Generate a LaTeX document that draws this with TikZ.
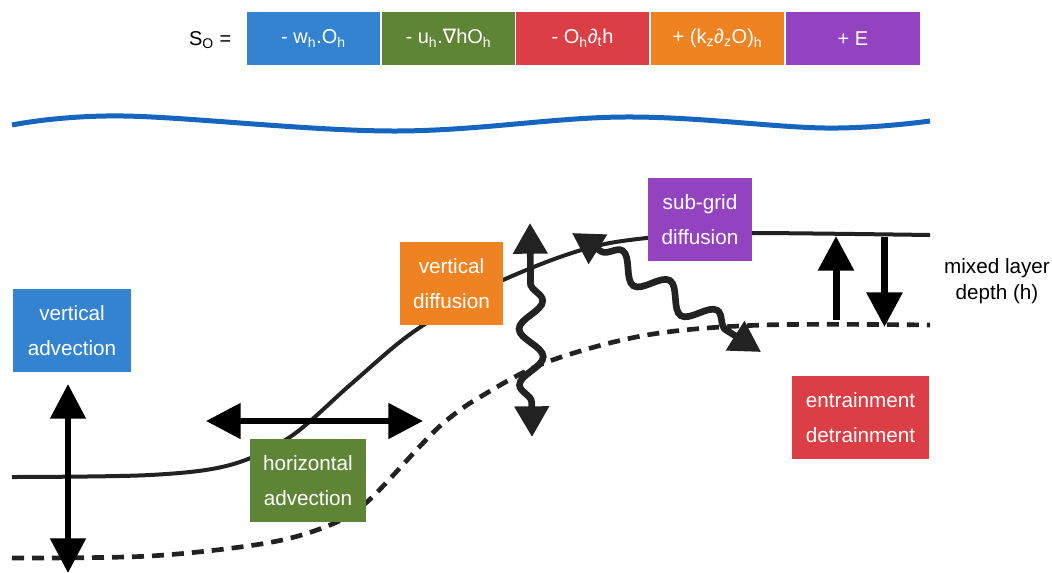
\documentclass[tikz,border=0pt]{standalone}
\usepackage{fontspec}
\setmainfont{Liberation Sans}
\newfontfamily\djv{DejaVu Sans}
\usetikzlibrary{arrows.meta,decorations.pathmorphing}
\definecolor{cblue}{HTML}{3483D0}
\definecolor{cgreen}{HTML}{5E8436}
\definecolor{cred}{HTML}{DC3E45}
\definecolor{corange}{HTML}{EF8221}
\definecolor{cpurple}{HTML}{9443C0}
\definecolor{cwave}{HTML}{1666C0}
\definecolor{cline}{HTML}{222222}
\begin{document}
\begin{tikzpicture}[x=0.75pt,y=-0.75pt,
  lbl/.style={fill=#1, text=white, align=center, inner sep=0pt,
    minimum height=62.25pt, font=\fontsize{15.5}{26}\selectfont},
  term/.style={fill=#1, text=white, inner sep=0pt, minimum height=39.75pt,
    minimum width=99.75pt, font=\fontsize{15}{17}\selectfont},
  surface/.style={line width=3pt, cline},
  base/.style={line width=3.5pt, cline, dash pattern=on 9pt off 6pt},
  bigarrow/.style={line width=4.5pt, black,
    {Triangle[length=26pt,width=26pt]}-{Triangle[length=26pt,width=26pt]}},
  uparrow/.style={line width=5.25pt, black, -{Triangle[length=26pt,width=26pt]}},
  wavy/.style={line width=5pt, cline, decorate,
    decoration={snake, amplitude=9pt, segment length=42pt, pre length=26pt, post length=26pt},
    {Triangle[length=23pt,width=25pt]}-{Triangle[length=23pt,width=25pt]}}
]
\useasboundingbox (0,0) rectangle (1052,572);

% formula
\node[anchor=east, font=\fontsize{15}{17}\selectfont] (so) at (236,40) {S\textsubscript{O} =};
\node[term=cblue] (t1) at (313.5,38.5) {- w\textsubscript{h}.O\textsubscript{h}};
\node[term=cgreen] (t2) at (448.5,38.5) {- u\textsubscript{h}.{\djv ∇}hO\textsubscript{h}};
\node[term=cred] (t3) at (582.5,38.5) {- O\textsubscript{h}∂\textsubscript{t}h};
\node[term=corange] (t4) at (717.5,38.5) {+ (k\textsubscript{z}∂\textsubscript{z}O)\textsubscript{h}};
\node[term=cpurple, minimum width=100.5pt] (t5) at (853,38.5) {+ E};

% sea surface
\draw[cwave, line width=3.75pt] plot[smooth, tension=0.6] coordinates
  {(12,125) (124,116) (393,131) (624,117) (825,128) (930,121)};

% mixed layer top and base
\draw[surface] plot[smooth, tension=0.55] coordinates
  {(12,477) (150,475) (230,465) (290,437) (350,385) (405,338) (460,302) (503,280)
   (560,257) (610,243) (680,235) (752,233) (930,235)};
\draw[base] plot[smooth, tension=0.55] coordinates
  {(12,558) (150,556) (267,543) (330,525) (367,502) (423,443) (447,420) (480,397)
   (547,362) (647,335) (763,325) (930,325)};

% boxes
\node[lbl=cblue, minimum width=88.5pt] (va) at (72,330.5) {vertical\\advection};
\node[lbl=cgreen, minimum width=87pt] (ha) at (308,480.5) {horizontal\\advection};
\node[lbl=corange, minimum width=77.25pt] (vd) at (451.5,283.5) {vertical\\diffusion};
\node[lbl=cpurple, minimum width=78pt] (sg) at (700,219.5) {sub-grid\\diffusion};
\node[lbl=cred, minimum width=102.75pt] (ed) at (860.5,417.5) {entrainment\\detrainment};
\node[align=center, font=\fontsize{15.5}{19.5}\selectfont] (mld) at (997,281) {mixed layer\\depth (h)};

% arrows
\coordinate (vaT) at (68,384);
\coordinate (vaB) at (68,573);
\draw[bigarrow] (vaT) -- (vaB);
\coordinate (haL) at (206,421);
\coordinate (haR) at (423,421);
\draw[bigarrow] (haL) -- (haR);
\coordinate (upA) at (836,320);
\coordinate (upB) at (836,236);
\draw[uparrow] (upA) -- (upB);
\coordinate (dnA) at (884.5,237);
\coordinate (dnB) at (884.5,327);
\draw[uparrow] (dnA) -- (dnB);

% wavy diffusion arrows
\coordinate (w1a) at (532,437);
\coordinate (w1b) at (530,223);
\draw[wavy] (w1a) -- (w1b);
\coordinate (w2a) at (572,233);
\coordinate (w2b) at (761,352);
\draw[wavy] (w2a) -- (w2b);
\end{tikzpicture}
\end{document}
